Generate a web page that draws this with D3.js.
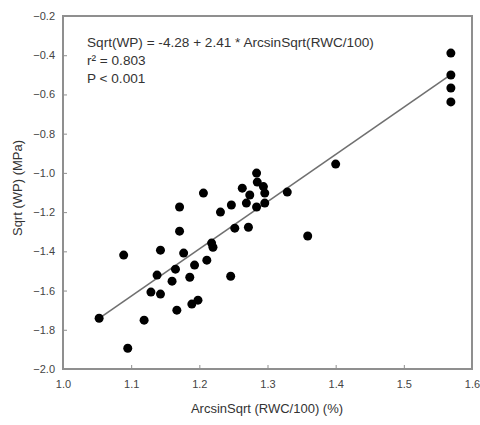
<!DOCTYPE html>
<html>
<head>
<meta charset="utf-8">
<script src="https://cdn.jsdelivr.net/npm/d3@7"></script>
<style>
  body { margin: 0; background: #fff; }
  svg { font-family: "Liberation Sans", Arial, sans-serif; }
</style>
</head>
<body>
<svg id="chart" width="480" height="425"></svg>
<script>
// data
var rwc = [1.569, 1.569, 1.569, 1.569, 1.400, 1.329, 1.359, 1.206, 1.284, 1.285,
           1.263, 1.296, 1.274, 1.269, 1.284, 1.296, 1.247, 1.231, 1.171, 1.252,
           1.272, 1.218, 1.220, 1.171, 1.089, 1.143, 1.177, 1.211, 1.193, 1.165,
           1.138, 1.160, 1.186, 1.246, 1.129, 1.143, 1.189, 1.198, 1.167, 1.053,
           1.119, 1.095, 1.294];
var wp = [-0.389, -0.501, -0.567, -0.638, -0.955, -1.098, -1.322, -1.103, -1.001, -1.047,
          -1.078, -1.103, -1.113, -1.154, -1.174, -1.154, -1.164, -1.200, -1.174, -1.282,
          -1.277, -1.358, -1.379, -1.297, -1.419, -1.394, -1.409, -1.445, -1.470, -1.491,
          -1.521, -1.552, -1.532, -1.527, -1.608, -1.618, -1.669, -1.649, -1.700, -1.741,
          -1.751, -1.894, -1.070];
var xTicks = [1.0, 1.1, 1.2, 1.3, 1.4, 1.5, 1.6];
var yTicks = [-0.2, -0.4, -0.6, -0.8, -1.0, -1.2, -1.4, -1.6, -1.8, -2.0];
var fitA = -4.28, fitB = 2.41;
var fitRange = [1.053, 1.569];
var notes = ["Sqrt(WP) = -4.28 + 2.41 * ArcsinSqrt(RWC/100)", "r\u00b2 = 0.803", "P < 0.001"];

var svg = d3.select('#chart');
var mLeft = 63, mRight = 472, mTop = 16, mBottom = 369;

var x = d3.scaleLinear().domain([1.0, 1.6]).range([mLeft, mRight]);
var y = d3.scaleLinear().domain([-2.0, -0.2]).range([mBottom, mTop]);

// frame
svg.append('rect')
    .attr('x', mLeft).attr('y', mTop)
    .attr('width', mRight - mLeft).attr('height', mBottom - mTop)
    .attr('fill', 'none')
    .attr('stroke', '#8f8f8f')
    .attr('stroke-width', 2);

var xAxis = svg.append('g')
    .attr('transform', 'translate(0,' + mBottom + ')')
    .call(d3.axisBottom(x).tickValues(xTicks).tickSize(-4).tickPadding(11)
        .tickFormat(d3.format('.1f')));
var yAxis = svg.append('g')
    .attr('transform', 'translate(' + mLeft + ',0)')
    .call(d3.axisLeft(y).tickValues(yTicks).tickSize(-4).tickPadding(8)
        .tickFormat(d3.format('.1f')));

[xAxis, yAxis].forEach(function(g) {
    g.select('.domain').remove();
    g.selectAll('line').attr('stroke', '#8f8f8f');
    g.selectAll('text').attr('fill', '#444').style('font-size', '11px');
});

// regression line
svg.append('line')
    .attr('x1', x(fitRange[0])).attr('y1', y(fitA + fitB * fitRange[0]))
    .attr('x2', x(fitRange[1])).attr('y2', y(fitA + fitB * fitRange[1]))
    .attr('stroke', '#707070')
    .attr('stroke-width', 1.6);

// points
svg.selectAll('.dot')
    .data(rwc)
    .enter()
    .append('circle')
        .attr('class', 'dot')
        .attr('cx', function(d) { return x(d); })
        .attr('cy', function(d, i) { return y(wp[i]); })
        .attr('r', 4.5)
        .attr('fill', '#000');

// annotation
svg.selectAll('.note')
    .data(notes)
    .enter()
    .append('text')
        .attr('class', 'note')
        .attr('x', 87)
        .attr('y', function(d, i) { return 47 + i * 18; })
        .attr('fill', '#333')
        .style('font-size', '13.6px')
        .text(function(d) { return d; });

// axis titles
svg.append('text')
    .attr('x', 267)
    .attr('y', 413)
    .attr('text-anchor', 'middle')
    .attr('fill', '#333')
    .style('font-size', '13px')
    .text('ArcsinSqrt (RWC/100) (%)');

svg.append('text')
    .attr('transform', 'translate(22,' + 188 + ') rotate(-90)')
    .attr('text-anchor', 'middle')
    .attr('fill', '#333')
    .style('font-size', '13px')
    .text('Sqrt (WP) (MPa)');
</script>
</body>
</html>
